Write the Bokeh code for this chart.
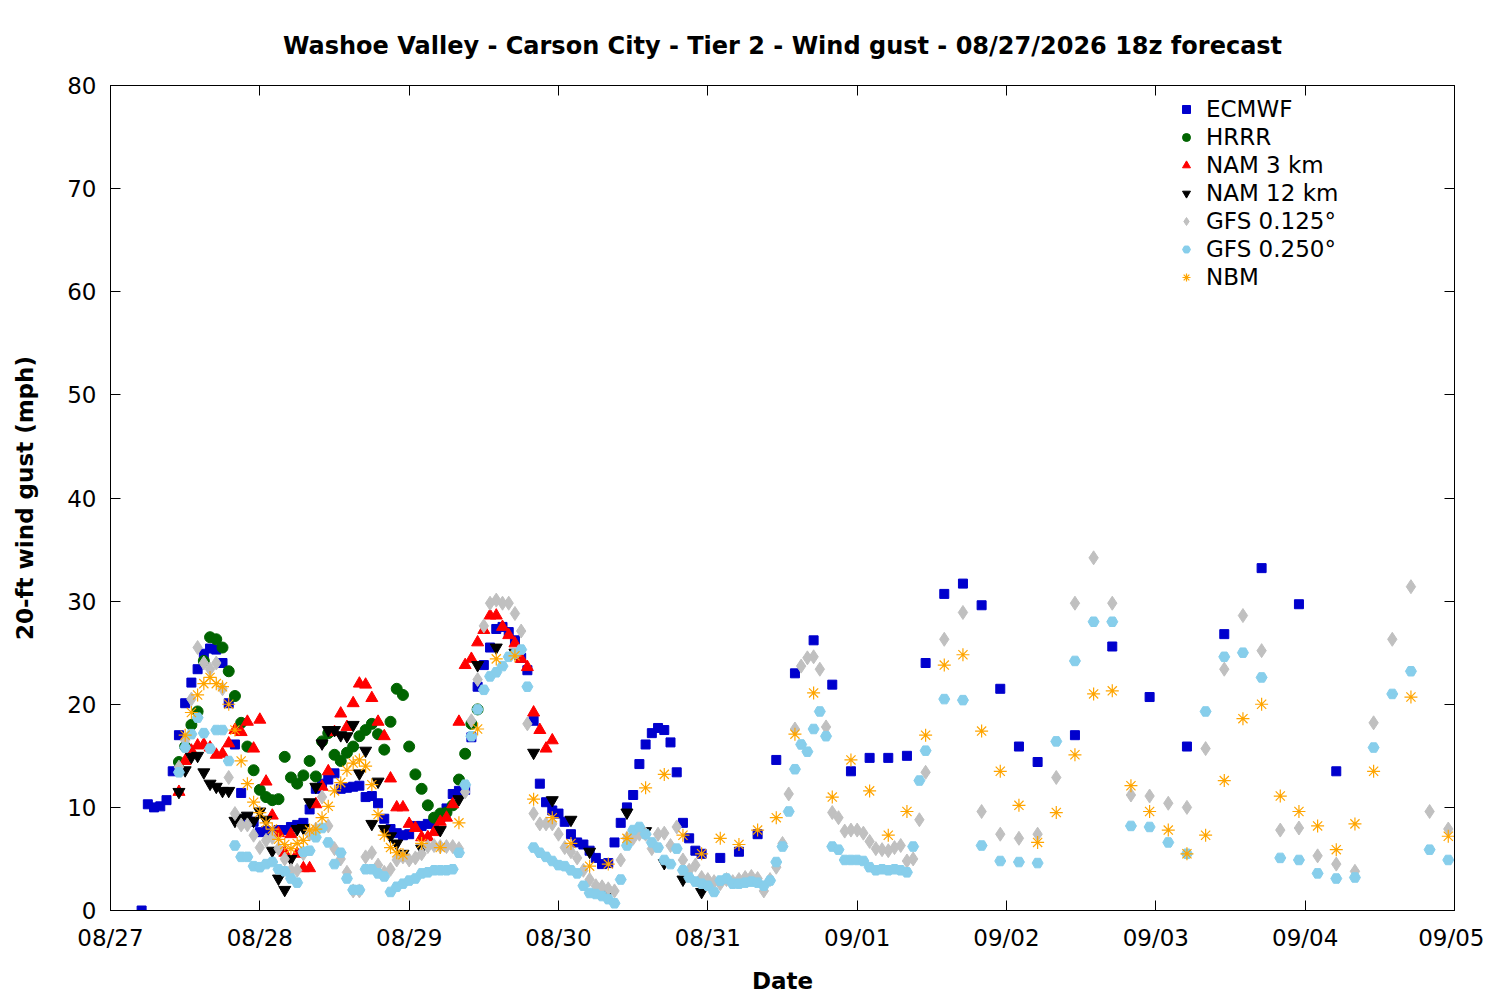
import numpy as np
from bokeh.plotting import figure
from bokeh.models import Legend, LegendItem, LinearAxis, FixedTicker, Range1d
from bokeh.embed import file_html
from bokeh.resources import INLINE

# x axis is hours after 08/27 00 local time
day_ticks = [0, 24, 48, 72, 96, 120, 144, 168, 192, 216]
day_labels = ["08/27", "08/28", "08/29", "08/30", "08/31",
              "09/01", "09/02", "09/03", "09/04", "09/05"]
gust_ticks = [0, 10, 20, 30, 40, 50, 60, 70, 80]

# ECMWF: hourly from h5, 3-hourly from h98, 6-hourly from h155
ecmwf_1h = [0.0, 10.3, 10.0, 10.1, 10.7, 13.5, 17.0, 20.1, 22.1, 23.4, 24.9, 25.4, 25.3, 24.0, 20.1, 16.1, 11.4, 9.0, 8.6,
            7.6, 7.7, 7.6, 7.8, 7.8, 8.1, 8.3, 8.5, 9.8, 11.8, 12.3, 12.7, 13.3, 11.8, 11.9, 12.0, 12.1, 11.0, 11.1, 10.4, 8.9, 7.9, 7.5, 7.3,
            7.4, 8.2, 8.2, 8.4, 8.6, 9.0, 9.9, 11.3, 11.6, 11.7, 16.8, 21.7, 23.8, 25.5, 27.3, 27.5, 27.0, 26.2, 24.5, 23.3, 18.4, 12.3, 10.5, 9.7,
            9.4, 8.6, 7.4, 6.6, 6.4, 5.8, 5.1, 4.5, 4.6, 6.6, 8.5, 10.0, 11.2, 14.2, 16.1, 17.2, 17.7, 17.5, 16.3, 13.4, 8.5, 7.0, 5.8, 5.5]
ecmwf_3h = [5.1, 5.7, 7.4, 14.6, 23.0, 26.2, 21.9, 13.5, 14.8, 14.8, 15.0, 24.0, 30.7, 31.7, 29.6, 21.5, 15.9, 14.4]
ecmwf_6h = [17.0, 25.6, 20.7, 15.9, 26.8, 33.2, 29.7, 13.5]

# HRRR: hourly from h11
hrrr_1h = [14.4, 15.9, 18.0, 19.3, 24.2, 26.5, 26.3, 25.5, 23.2, 20.8, 18.2, 15.9, 13.6,
           11.7, 11.0, 10.7, 10.8, 14.9, 12.9, 12.3, 13.1, 14.5, 13.0, 16.4, 17.2, 15.1, 14.5, 15.3, 15.9, 16.9, 17.5, 18.1, 17.1, 15.6, 18.3, 21.5, 20.9,
           15.9, 13.2, 11.8, 10.2, 9.0, 9.4, 9.5, 10.2, 12.7, 15.2, 18.1, 19.5]

# NAM 3 km: hourly from h11
nam3_1h = [11.5, 14.5, 15.5, 16.0, 16.1, 15.8, 15.1, 15.2, 16.2, 17.5, 17.3, 18.3, 15.7,
           18.5, 12.5, 9.2, 7.5, 5.6, 7.4, 5.5, 4.1, 4.1, 10.3, 12.0, 13.5, 17.3, 19.1, 17.8, 20.1, 22.0, 21.9, 20.6, 18.3, 16.9, 12.8, 10.0, 10.0,
           8.4, 8.0, 7.1, 7.1, 7.6, 8.6, 9.0, 10.3, 18.3, 23.8, 24.4, 26.0, 27.2, 28.6, 28.6, 27.5, 26.7, 25.9, 24.4, 23.6, 19.2, 17.5, 15.7, 16.5]

# NAM 12 km: hourly from h11, 3-hourly from h50
nam12_1h = [11.5, 13.6, 14.9, 15.0, 13.4, 12.3, 12.0, 11.6, 11.6, 8.7, 9.0, 9.2, 8.7,
            9.6, 8.8, 5.8, 3.1, 2.0, 5.0, 7.9, 8.0, 10.5, 12.0, 16.2, 17.5, 17.5, 17.0, 16.9, 18.0, 13.3, 15.5, 8.4, 12.5, 7.9, 7.2, 6.5, 5.5]
nam12_3h = [6.0, 7.8, 10.8, 23.8, 25.5, 25.0, 15.3, 10.7, 8.8, 5.7, 1.8, 9.5, 7.7, 4.6, 3.0, 1.8]

# GFS 0.125: hourly from h11, 3-hourly from h134
gfs125_1h = [13.9, 16.5, 20.5, 25.5, 24.0, 23.4, 24.0, 21.5, 12.9, 9.4, 8.3, 8.3, 7.3,
             6.1, 6.8, 7.1, 6.0, 5.0, 3.9, 3.9, 5.5, 7.4, 7.9, 11.0, 8.2, 6.0, 5.0, 3.7, 1.9, 1.9, 5.2, 5.6, 4.4, 3.7, 4.0, 4.9, 5.2,
             4.9, 5.1, 5.5, 6.2, 6.3, 6.2, 6.2, 6.2, 6.0, 11.5, 18.4, 22.4, 27.6, 29.8, 30.1, 29.8, 29.8, 28.8, 27.1, 18.1, 9.4, 8.4, 8.4, 8.4,
             7.4, 6.1, 5.7, 5.1, 3.9, 3.0, 2.4, 2.3, 2.1, 1.9, 4.9, 7.0, 7.0, 7.4, 7.4, 6.0, 7.4, 7.5, 6.3, 8.1, 4.9, 3.9, 4.4, 3.2,
             3.0, 2.8, 2.6, 3.0, 2.8, 3.0, 3.2, 3.3, 3.1, 1.9, 3.0, 4.2, 6.5, 11.3, 17.6, 23.7, 24.5, 24.6, 23.4, 17.8, 9.5, 9.0, 7.7, 7.8,
             7.8, 7.5, 6.7, 6.0, 5.9, 5.8, 6.1, 6.3, 4.8, 5.0, 8.8, 13.4]
gfs125_3h = [26.3, 28.9, 9.6, 7.4, 7.0, 7.4, 12.9, 29.8, 34.2, 29.8, 11.2, 11.1, 10.4, 10.0,
             15.7, 23.4, 28.6, 25.2, 7.8, 8.0, 5.3, 4.5, 3.8, 18.2, 26.3, 31.4, 9.6, 7.9]

# GFS 0.250: hourly from h11, 3-hourly from h134
gfs250_1h = [13.4, 15.8, 17.1, 18.7, 17.2, 15.7, 17.5, 17.5, 14.5, 6.3, 5.2, 5.2, 4.3,
             4.2, 4.5, 4.7, 4.0, 3.8, 3.1, 2.7, 5.7, 5.8, 7.1, 8.0, 6.6, 4.5, 5.6, 3.1, 2.0, 2.0, 4.0, 4.0, 3.6, 3.3, 1.8, 2.3, 2.6,
             2.9, 3.1, 3.6, 3.7, 3.9, 3.9, 3.9, 4.0, 5.6, 12.2, 16.9, 19.5, 21.4, 22.7, 23.1, 23.7, 24.6, 24.9, 25.3, 21.7, 6.1, 5.6, 5.2, 4.8,
             4.4, 4.3, 3.9, 3.6, 2.4, 1.7, 1.6, 1.4, 1.1, 0.7, 3.0, 6.3, 7.8, 8.1, 7.4, 6.6, 6.1, 4.9, 4.5, 6.0, 3.9, 3.2, 2.8, 2.6,
             2.4, 1.8, 2.9, 3.1, 2.6, 2.6, 2.7, 2.8, 2.7, 2.4, 2.9, 4.7, 6.2, 9.6, 13.7, 16.1, 15.4, 17.6, 19.3, 16.9, 6.2, 5.9, 4.9, 4.9,
             4.9, 4.8, 4.2, 3.9, 4.0, 3.9, 4.0, 3.9, 3.7, 6.2, 12.6, 15.5]
gfs250_3h = [20.5, 20.4, 6.3, 4.8, 4.7, 4.6, 16.4, 24.2, 28.0, 28.0, 8.2, 8.1, 6.6, 5.5,
             19.3, 24.6, 25.0, 22.6, 5.1, 4.9, 3.6, 3.1, 3.2, 15.8, 21.0, 23.2, 5.9, 4.9]

# NBM: hourly from h12, 3-hourly from h50, 6-hourly from h209
nbm_1h = [17.0, 19.2, 20.9, 22.0, 22.6, 22.0, 21.7, 20.0, 17.5, 14.5, 12.3, 10.5,
          9.5, 8.5, 7.9, 6.9, 6.4, 6.0, 6.5, 6.8, 7.8, 7.9, 9.0, 10.1, 11.6, 12.4, 13.6, 14.3, 14.6, 14.0, 12.2, 9.3, 7.3, 6.1, 5.6, 5.4]
nbm_3h = [6.5, 6.1, 8.5, 17.6, 24.4, 24.7, 10.8, 9.0, 6.5, 4.3, 4.5, 7.0, 11.9, 13.2, 7.3, 5.5,
          7.0, 6.4, 7.8, 9.0, 17.1, 21.1, 11.0, 14.6, 11.6, 7.3, 9.6, 17.0,
          23.8, 24.8, 17.4, 13.5, 10.2, 6.6, 9.5, 15.1, 21.0, 21.3, 12.1, 9.6, 7.8, 5.5,
          7.3, 12.6, 18.6, 20.0, 11.1, 9.6, 8.2, 5.9, 8.4, 13.5]
nbm_6h = [20.7, 7.2]


def series(*parts):
    # parts: (first hour, step, values)
    hrs, vals = [], []
    for start, step, v in parts:
        hrs += list(np.arange(len(v)) * step + start)
        vals += list(v)
    return hrs, vals


models = [
    ("ECMWF", series((5, 1, ecmwf_1h), (98, 3, ecmwf_3h), (155, 6, ecmwf_6h)), "square", "#0000cd", 9),
    ("HRRR", series((11, 1, hrrr_1h)), "circle", "#006400", 11),
    ("NAM 3 km", series((11, 1, nam3_1h)), "triangle", "#ff0000", 12),
    ("NAM 12 km", series((11, 1, nam12_1h), (50, 3, nam12_3h)), "inverted_triangle", "#000000", 12),
    ("GFS 0.125°", series((11, 1, gfs125_1h), (134, 3, gfs125_3h)), "diamond", "#c0c0c0", 14),
    ("GFS 0.250°", series((11, 1, gfs250_1h), (134, 3, gfs250_3h)), "hex", "#87ceeb", 11),
    ("NBM", series((12, 1, nbm_1h), (50, 3, nbm_3h), (209, 6, nbm_6h)), "asterisk", "#ffa500", 13),
]

FONT = "DejaVu Sans"

p = figure(frame_width=1344, frame_height=825,
           x_range=Range1d(0, 216), y_range=Range1d(0, 80),
           title="Washoe Valley - Carson City - Tier 2 - Wind gust - 08/27/2026 18z forecast",
           x_axis_label="Date", y_axis_label="20-ft wind gust (mph)",
           min_border_left=110, min_border_top=85, min_border_right=30, min_border_bottom=85,
           output_backend="svg", toolbar_location=None)

p.title.align = "center"
p.title.text_font = FONT
p.title.text_font_size = "24px"
p.title.text_font_style = "bold"
p.title.text_color = "black"
p.title.standoff = 51

p.grid.visible = False
p.outline_line_color = "black"
p.outline_line_width = 1

# mirrored axes on top and right, ticks only
p.add_layout(LinearAxis(), "right")
p.add_layout(LinearAxis(), "above")

bottom, top = p.below[0], p.above[-1]
left, right = p.left[0], p.right[0]

for ax in (bottom, top):
    ax.ticker = FixedTicker(ticks=day_ticks)
for ax in (left, right):
    ax.ticker = FixedTicker(ticks=gust_ticks)

for ax in (bottom, top, left, right):
    ax.major_tick_in = 10
    ax.major_tick_out = 0
    ax.minor_tick_line_color = None
    ax.axis_line_color = "black"
    ax.major_tick_line_color = "black"
    ax.major_label_text_font = FONT
    ax.major_label_text_font_size = "23px"
    ax.major_label_text_color = "black"
    ax.axis_label_text_font = FONT
    ax.axis_label_text_font_size = "23px"
    ax.axis_label_text_font_style = "bold"
    ax.axis_label_text_color = "black"

bottom.major_label_overrides = dict(zip(day_ticks, day_labels))
bottom.major_label_standoff = 14
bottom.axis_label_standoff = 14
left.major_label_standoff = 14
left.axis_label_standoff = 26

# blank labels on the mirrored axes
top.major_label_overrides = {t: "" for t in day_ticks}
right.major_label_overrides = {t: "" for t in gust_ticks}
top.major_label_standoff = 0
right.major_label_standoff = 0

items = []
for name, (hrs, vals), marker, color, size in models:
    if marker == "asterisk":
        r = p.scatter(hrs, vals, marker=marker, size=size, line_color=color, line_width=1.2)
    else:
        r = p.scatter(hrs, vals, marker=marker, size=size, fill_color=color, line_color=color)
    items.append(LegendItem(label=name, renderers=[r]))

legend = Legend(items=items, location=(1066, 620))
legend.border_line_color = None
legend.background_fill_alpha = 0
legend.label_text_font = FONT
legend.label_text_font_size = "23px"
legend.label_text_color = "black"
legend.label_height = 20
legend.glyph_height = 20
legend.glyph_width = 20
legend.spacing = 2
legend.margin = 0
legend.padding = 4
legend.label_standoff = 10
p.add_layout(legend)

open("out.html", "w").write(file_html(p, INLINE))
